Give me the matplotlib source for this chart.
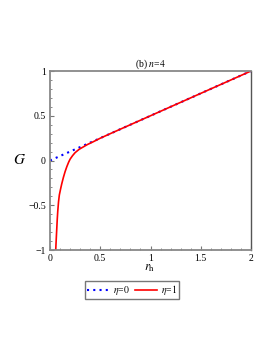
import matplotlib
matplotlib.use("Agg")
import matplotlib.pyplot as plt
from matplotlib.ticker import MultipleLocator

# eta = 0 (blue dotted)
r_eta0 = [0.0, 0.1, 0.2, 0.3, 0.4, 0.5, 0.75, 1.0, 1.25, 1.5, 1.75, 2.0]
G_eta0 = [0.0, 0.05, 0.1, 0.15, 0.2, 0.25, 0.375, 0.5, 0.625, 0.75, 0.875, 1.0]

# eta = 1 (red solid)
r_eta1 = [0.057, 0.062, 0.067, 0.072, 0.077, 0.085, 0.093, 0.105, 0.117, 0.133,
          0.15, 0.167, 0.185, 0.2, 0.225, 0.25, 0.29, 0.333, 0.375, 0.417, 0.5,
          0.6, 0.8, 1.0, 1.5, 2.0]
G_eta1 = [-1.0, -0.88, -0.77, -0.66, -0.57, -0.46, -0.385, -0.32, -0.26, -0.19,
          -0.125, -0.07, -0.02, 0.015, 0.055, 0.088, 0.125, 0.153, 0.18, 0.202,
          0.249, 0.3, 0.4, 0.5, 0.75, 1.0]

plt.rcParams['font.family'] = ['Liberation Serif', 'DejaVu Serif']
plt.rcParams['mathtext.fontset'] = 'stix'

fig = plt.figure(figsize=(2.73, 3.53), dpi=100)
ax = fig.add_axes([50/273, 103/353, 201/273, 179/353])

ax.plot(r_eta0, G_eta0, color='blue', linestyle=(0, (1, 2)), linewidth=1.5,
        label=r'$\eta$=$\mathit{0}$')
ax.plot(r_eta1, G_eta1, color='red', linewidth=1.2, label=r'$\eta$=$\mathit{1}$')

ax.set_xlim(0, 2)
ax.set_ylim(-1, 1)
ax.set_xticks([0, 0.5, 1, 1.5, 2])
ax.set_xticklabels(['0', '0.5', '1', '1.5', '2'])
ax.set_yticks([-1, -0.5, 0, 0.5, 1])
ax.set_yticklabels(['\u22121', '\u22120.5', '0', '0.5', '1'])
ax.xaxis.set_minor_locator(MultipleLocator(0.1))
ax.yaxis.set_minor_locator(MultipleLocator(0.1))
ax.tick_params(which='both', direction='in', labelsize=7, pad=3, color='#777777')
ax.tick_params(which='major', length=3)
ax.tick_params(which='minor', length=1.5)

for side in ['left', 'bottom', 'top']:
    ax.spines[side].set_color('#888888')
    ax.spines[side].set_linewidth(1.3)
ax.spines['right'].set_color('#555555')
ax.spines['right'].set_linewidth(1.0)

ax.set_title(r'(b) $\mathit{n}$=$\mathit{4}$', fontsize=7, pad=3)
fig.text(20/273, 1 - 160/353, r'$G$', fontsize=11, ha='center', va='center')
fig.text(150/273, 1 - 268/353, r'$r_{\mathrm{h}}$', fontsize=9, ha='center', va='center')

leg = fig.legend(loc='center', bbox_to_anchor=(132/273, 1 - 290/353), ncol=2,
                 fontsize=7, frameon=True, fancybox=False, handlelength=2.2,
                 columnspacing=0.6, handletextpad=0.4, borderpad=0.2,
                 borderaxespad=0)
leg.get_frame().set_edgecolor('#555555')
leg.get_frame().set_linewidth(1.0)

fig.savefig('out.png', dpi=100)
